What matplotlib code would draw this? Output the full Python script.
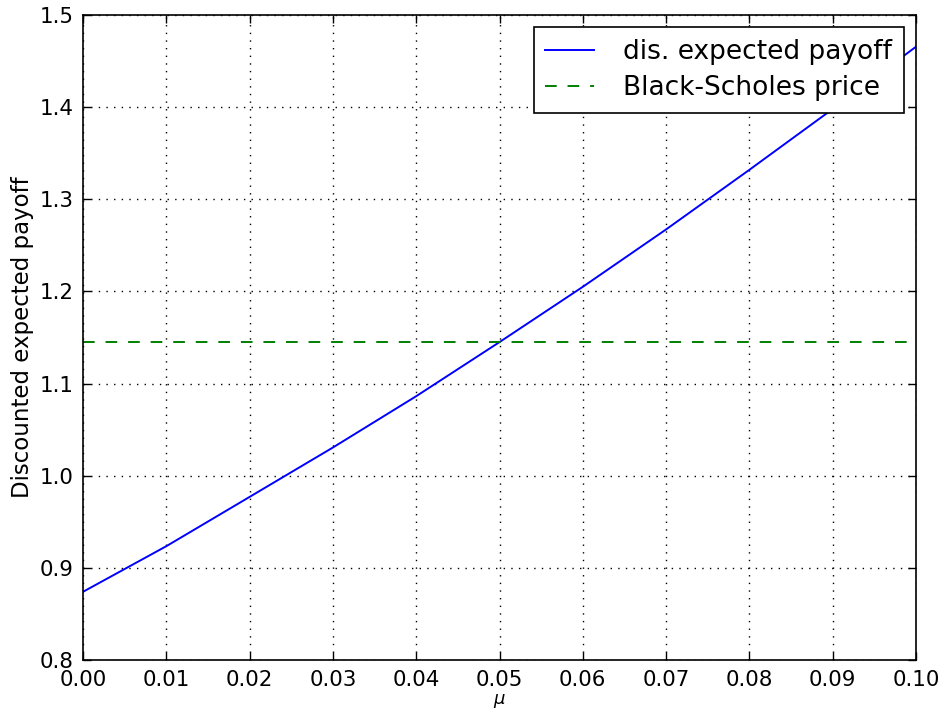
import matplotlib
matplotlib.use("Agg")
import matplotlib.pyplot as plt
import numpy as np

mu = [0.00, 0.01, 0.02, 0.03, 0.04, 0.05, 0.06, 0.07, 0.08, 0.09, 0.10]
payoff = [0.874, 0.9235, 0.977, 1.0306, 1.0863, 1.145, 1.205, 1.2673, 1.332, 1.398, 1.4656]
bs_price = 1.145

fig = plt.figure(figsize=(9.46, 7.13), dpi=100)
ax = fig.add_axes([83/946, 53/713, (916-83)/946, (660-15)/713])

ax.plot(mu, payoff, color=(0, 0, 1), lw=1.4, label="dis. expected payoff")
ax.axhline(bs_price, color=(0, 0.5, 0), lw=1.4, linestyle=(0, (6.0, 5.6)), label="Black-Scholes price")

ax.set_xlim(0, 0.1)
ax.set_ylim(0.8, 1.5)
ax.set_xticks(np.arange(0, 0.1001, 0.01))
ax.set_yticks(np.arange(0.8, 1.5001, 0.1))
ax.set_xticklabels([f"{v:.2f}" for v in np.arange(0, 0.1001, 0.01)])
ax.set_yticklabels([f"{v:.1f}" for v in np.arange(0.8, 1.5001, 0.1)])
ax.tick_params(direction="in", top=True, right=True, length=5.5, width=1,
               labelsize=15.4, pad=7)
ax.grid(True, color="k", linestyle=(0, (1, 4.5)), lw=1.0)
for s in ax.spines.values():
    s.set_linewidth(1.2)

ax.set_xlabel(r"$\mu$", fontsize=13, labelpad=2)
ax.set_ylabel("Discounted expected payoff", fontsize=16.5, labelpad=4)

leg = ax.legend(loc="upper right", fontsize=19, fancybox=False, framealpha=1,
                edgecolor="k", borderaxespad=0.45, handlelength=1.85, borderpad=0.45,
                handletextpad=1.1, labelspacing=0.4)
leg.get_frame().set_linewidth(1.2)

fig.savefig("out.png", dpi=100)
